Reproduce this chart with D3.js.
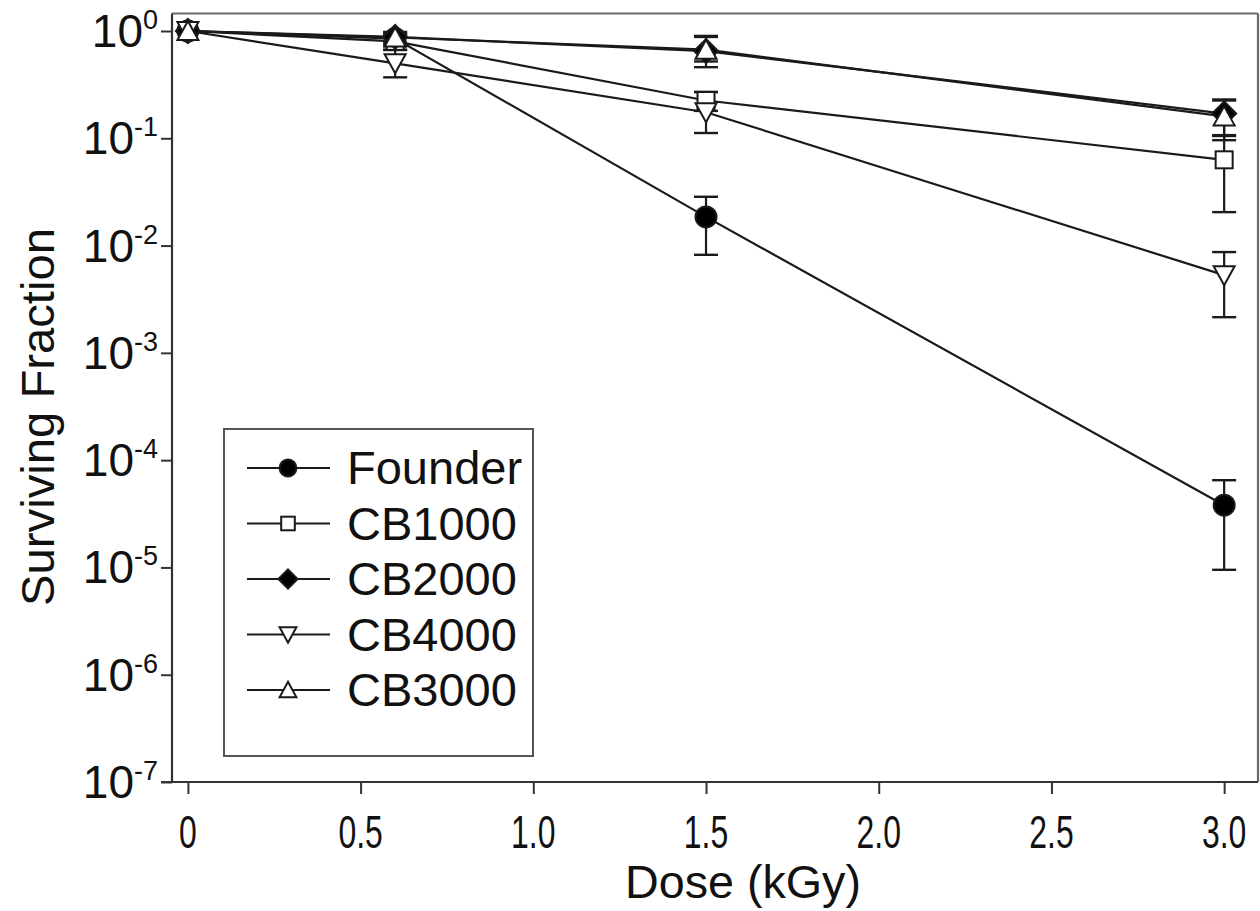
<!DOCTYPE html>
<html><head><meta charset="utf-8">
<script src="https://cdn.jsdelivr.net/npm/d3@7"></script>
<style>body{margin:0;background:#fff}svg{display:block}</style>
</head><body>
<svg id="c" width="1260" height="911"></svg>
<script>
const doses = [0, 0.6, 1.5, 3.0];
const seriesNames = ["Founder", "CB1000", "CB2000", "CB4000", "CB3000"];
const founder   = [1.0, 0.85, 0.0185, 3.8e-5];
const founderLo = [1.0, 0.78, 0.0082, 9.5e-6];
const founderHi = [1.0, 0.93, 0.0285, 6.5e-5];
const cb1000    = [1.0, 0.80, 0.225, 0.063];
const cb1000Lo  = [1.0, 0.67, 0.18, 0.0205];
const cb1000Hi  = [1.0, 0.93, 0.27, 0.105];
const cb2000    = [1.0, 0.88, 0.65, 0.17];
const cb2000Lo  = [1.0, 0.72, 0.52, 0.107];
const cb2000Hi  = [1.0, 0.97, 0.88, 0.225];
const cb4000    = [1.0, 0.50, 0.175, 0.0053];
const cb4000Lo  = [1.0, 0.37, 0.112, 0.00215];
const cb4000Hi  = [1.0, 0.665, 0.27, 0.0087];
const cb3000    = [1.0, 0.87, 0.67, 0.16];
const cb3000Lo  = [1.0, 0.75, 0.46, 0.096];
const cb3000Hi  = [1.0, 0.98, 0.90, 0.23];
const xTicks = [0, 0.5, 1.0, 1.5, 2.0, 2.5, 3.0];
const xTickLabels = ["0", "0.5", "1.0", "1.5", "2.0", "2.5", "3.0"];
const yTickExps = [0, -1, -2, -3, -4, -5, -6, -7];

const series = [
  {name: seriesNames[0], v: founder, lo: founderLo, hi: founderHi, shape: "circle", fill: "#000"},
  {name: seriesNames[1], v: cb1000, lo: cb1000Lo, hi: cb1000Hi, shape: "square", fill: "#fff"},
  {name: seriesNames[2], v: cb2000, lo: cb2000Lo, hi: cb2000Hi, shape: "diamond", fill: "#000"},
  {name: seriesNames[3], v: cb4000, lo: cb4000Lo, hi: cb4000Hi, shape: "down", fill: "#fff"},
  {name: seriesNames[4], v: cb3000, lo: cb3000Lo, hi: cb3000Hi, shape: "up", fill: "#fff"}
];

const L = 172, R = 1258, T = 13.5, B = 782;
const x = d3.scaleLinear().domain([-0.046, 3.098]).range([L, R]);
const y = d3.scaleLog().domain([1e-7, Math.pow(10, (31 - T) / ((B - 31) / 7))]).range([B, T]);

const svg = d3.select("#c");
const ink = "#1a1a1a";
const font = "'Liberation Sans', Arial, sans-serif";

// frame
svg.append("line").attr("x1", L).attr("x2", R).attr("y1", T).attr("y2", T).attr("stroke", "#6a6a6a").attr("stroke-width", 2.2);
svg.append("line").attr("x1", R).attr("x2", R).attr("y1", T).attr("y2", B).attr("stroke", "#6a6a6a").attr("stroke-width", 2.2);

// axes
const yAxis = d3.axisLeft(y).tickValues(yTickExps.map(e => Math.pow(10, e))).tickSize(11).tickFormat("");
const gy = svg.append("g").attr("transform", `translate(${L},0)`).call(yAxis);
gy.select(".domain").attr("stroke", "#333").attr("stroke-width", 2.2).attr("d", `M0,${T}V${B}`);
gy.selectAll(".tick line").attr("stroke", "#333").attr("stroke-width", 2);

const xAxis = d3.axisBottom(x).tickValues(xTicks).tickSize(12).tickFormat("");
const gx = svg.append("g").attr("transform", `translate(0,${B})`).call(xAxis);
gx.select(".domain").attr("stroke", "#333").attr("stroke-width", 2.2).attr("d", `M${L - 11},0H${R}`);
gx.selectAll(".tick line").attr("stroke", "#333").attr("stroke-width", 2);

// y tick labels with superscripts
yTickExps.forEach(e => {
  const t = svg.append("text").attr("x", 158).attr("y", y(Math.pow(10, e)) + 16)
    .attr("text-anchor", "end").attr("font-family", font).attr("font-size", 46).attr("fill", "#111");
  t.append("tspan").text("10");
  t.append("tspan").attr("font-size", 27).attr("dy", -18).text(String(e));
});

// x tick labels (condensed look via horizontal scaling)
xTicks.forEach((v, i) => {
  svg.append("text").attr("transform", `translate(${x(v)},848) scale(0.68,1)`).attr("text-anchor", "middle")
    .attr("font-family", font).attr("font-size", 47).attr("fill", "#111")
    .text(xTickLabels[i]);
});

// axis titles
svg.append("text").attr("x", 743).attr("y", 898).attr("text-anchor", "middle")
  .attr("font-family", font).attr("font-size", 46).attr("fill", "#111")
  .attr("textLength", 236).attr("lengthAdjust", "spacingAndGlyphs").text("Dose (kGy)");
svg.append("text").attr("transform", "translate(54,417) rotate(-90)").attr("text-anchor", "middle")
  .attr("font-family", font).attr("font-size", 47).attr("fill", "#111")
  .attr("textLength", 378).attr("lengthAdjust", "spacingAndGlyphs").text("Surviving Fraction");

// marker drawing
function marker(g, shape, fill, cx, cy, s) {
  if (shape === "circle") {
    g.append("circle").attr("cx", cx).attr("cy", cy).attr("r", 10.5 * s).attr("fill", fill).attr("stroke", ink).attr("stroke-width", 2);
  } else if (shape === "square") {
    const h = 8.5 * s;
    g.append("rect").attr("x", cx - h).attr("y", cy - h).attr("width", 2 * h).attr("height", 2 * h).attr("fill", fill).attr("stroke", ink).attr("stroke-width", 2);
  } else if (shape === "diamond") {
    const h = 12 * s;
    g.append("path").attr("d", `M${cx},${cy - h}L${cx + h},${cy}L${cx},${cy + h}L${cx - h},${cy}Z`).attr("fill", fill).attr("stroke", ink).attr("stroke-width", 2);
  } else if (shape === "up") {
    const w = 10.5 * s, hh = 9 * s;
    g.append("path").attr("d", `M${cx},${cy - hh - 1}L${cx + w},${cy + hh}L${cx - w},${cy + hh}Z`).attr("fill", fill).attr("stroke", ink).attr("stroke-width", 2);
  } else if (shape === "down") {
    const w = 10.5 * s, hh = 9 * s;
    g.append("path").attr("d", `M${cx},${cy + hh + 1}L${cx + w},${cy - hh}L${cx - w},${cy - hh}Z`).attr("fill", fill).attr("stroke", ink).attr("stroke-width", 2);
  }
}

const line = d3.line().x(d => x(d[0])).y(d => y(d[1]));
const gl = svg.append("g");
series.forEach(s => {
  gl.append("path").attr("d", line(doses.map((d, i) => [d, s.v[i]])))
    .attr("fill", "none").attr("stroke", ink).attr("stroke-width", 2.2);
});
const ge = svg.append("g");
series.forEach(s => {
  doses.forEach((d, i) => {
    if (s.lo[i] === s.hi[i]) return;
    const cx = x(d);
    ge.append("line").attr("x1", cx).attr("x2", cx).attr("y1", y(s.hi[i])).attr("y2", y(s.lo[i])).attr("stroke", ink).attr("stroke-width", 2.2);
    [s.hi[i], s.lo[i]].forEach(v => {
      ge.append("line").attr("x1", cx - 12).attr("x2", cx + 12).attr("y1", y(v)).attr("y2", y(v)).attr("stroke", ink).attr("stroke-width", 2.4);
    });
  });
});
const gm = svg.append("g");
series.forEach(s => {
  doses.forEach((d, i) => marker(gm, s.shape, s.fill, x(d), y(s.v[i]), 1));
});

// legend
const lg = svg.append("g");
lg.append("rect").attr("x", 224).attr("y", 429).attr("width", 309).attr("height", 327)
  .attr("fill", "#fff").attr("stroke", "#555").attr("stroke-width", 2);
series.forEach((s, i) => {
  const ly = 468 + i * 55.5;
  lg.append("line").attr("x1", 247).attr("x2", 330).attr("y1", ly).attr("y2", ly).attr("stroke", ink).attr("stroke-width", 2.2);
  marker(lg, s.shape, s.fill, 288, ly, 0.8);
  lg.append("text").attr("x", 347).attr("y", ly + 16).attr("font-family", font).attr("font-size", 47).attr("fill", "#111").text(s.name);
});
</script>
</body></html>
